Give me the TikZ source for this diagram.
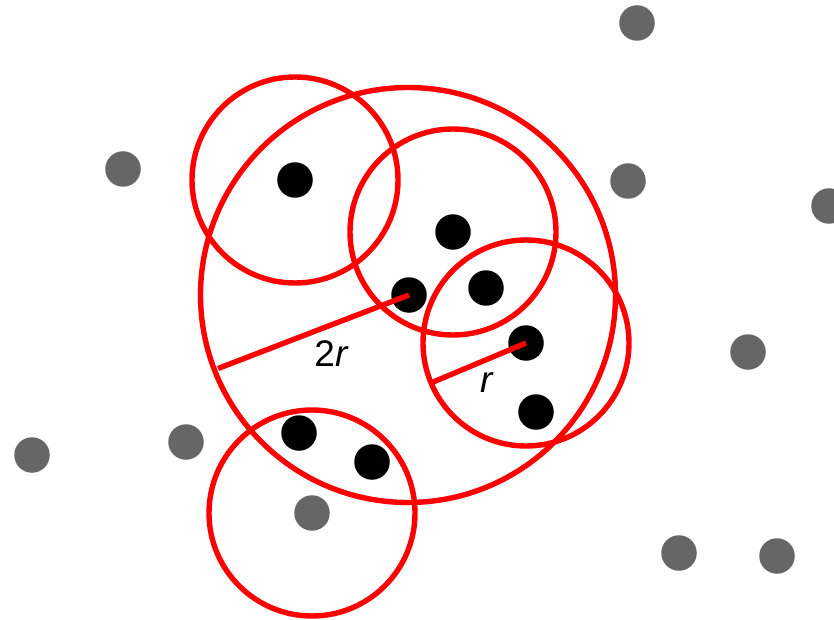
\documentclass[tikz,border=0pt]{standalone}
\usepackage{fontspec}
\setmainfont{Liberation Sans}
\begin{document}
\begin{tikzpicture}[x=1pt,y=-1pt,
  bdot/.style={circle,fill=black,inner sep=0pt,minimum size=35.5pt},
  gdot/.style={circle,fill=black!60,inner sep=0pt,minimum size=35.5pt},
  ring/.style={draw=red,line width=5.4pt},
  radline/.style={draw=red,line width=5.4pt},
  lbl/.style={inner sep=0pt,font=\fontsize{37}{40}\selectfont}]
\useasboundingbox[fill=white] (0,0) rectangle (834,620);
% grey points
\node[gdot] (g1) at (637,23) {};
\node[gdot] (g2) at (123,169) {};
\node[gdot] (g3) at (628,181) {};
\node[gdot] (g4) at (829,206) {};
\node[gdot] (g5) at (748,352) {};
\node[gdot] (g6) at (32,455) {};
\node[gdot] (g7) at (186,442) {};
\node[gdot] (g8) at (312,513) {};
\node[gdot] (g9) at (679,553) {};
\node[gdot] (g10) at (777,556) {};
% black points
\node[bdot] (b1) at (295,180) {};
\node[bdot] (b2) at (453,232) {};
\node[bdot] (b3) at (486,288) {};
\node[bdot] (b4) at (409,295) {};
\node[bdot] (b5) at (526,343) {};
\node[bdot] (b6) at (536,412) {};
\node[bdot] (b7) at (299,433) {};
\node[bdot] (b8) at (372,462) {};
% circles
\coordinate (bc) at (408,295);
\draw[ring] (bc) circle[radius=207.5];
\draw[ring] (b1.center) circle[radius=103];
\draw[ring] (b2.center) circle[radius=103];
\draw[ring] (b5.center) circle[radius=103];
\draw[ring] (g8.center) circle[radius=103];
% radii
\coordinate (e1) at (218,368.5);
\coordinate (e2) at (432,382.5);
\draw[radline] (b4.center) -- (e1);
\draw[radline] (b5.center) -- (e2);
\node[lbl] (l2r) at (331.5,354) {2\textit{r}};
\node[lbl] (lr) at (487.5,383) {\textit{r}};
\end{tikzpicture}
\end{document}
